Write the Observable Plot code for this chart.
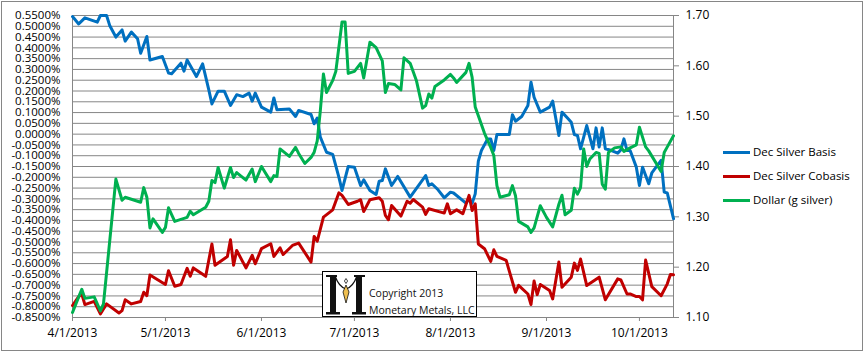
<!DOCTYPE html>
<html><head><meta charset="utf-8">
<script src="https://cdn.jsdelivr.net/npm/d3@7"></script>
<script src="https://cdn.jsdelivr.net/npm/@observablehq/plot@0.6"></script>
<style>
body{margin:0;background:#fff;}
#wrap{position:relative;width:865px;height:353px;font-family:"Open Sans",sans-serif;overflow:hidden;}
#frame{position:absolute;left:1px;top:1px;width:860px;height:348px;border:1px solid #868686;pointer-events:none;}
#chart{position:absolute;left:0;top:0;}
.leg{position:absolute;left:723px;height:16px;font-size:11.5px;color:#000;white-space:nowrap;}
.leg .sw{position:absolute;left:0;top:7px;width:27px;height:3px;}
.leg .lb{position:absolute;left:30px;top:0;line-height:16px;}
#copy{position:absolute;left:322px;top:271px;width:153px;height:44px;border:1px solid #000;background:#fff;}
#copy svg{position:absolute;left:0;top:0;}
</style></head>
<body><div id="wrap"><div id="chart"></div><div id="frame"></div><div id="legend"></div>
<div id="copy">
<svg width="153" height="44">
<g fill="#111">
<rect x="7" y="4" width="6" height="37"/>
<rect x="3" y="3" width="11" height="2"/>
<rect x="3" y="40" width="14" height="2.5"/>
<rect x="33" y="4" width="6" height="37"/>
<rect x="31" y="3" width="11" height="2"/>
<rect x="29" y="40" width="14" height="2.5"/>
</g>
<path d="M12,4 Q16,15 23,17 Q30,15 34,4" fill="none" stroke="#111" stroke-width="1.3"/>
<polygon points="23,13 26,20 23,31 20,20" fill="#f0c050" stroke="#111" stroke-width="0.8"/>
<polygon points="23,6.5 24.6,9 23,11.5 21.4,9" fill="#fff" stroke="#111" stroke-width="0.8"/>
<text x="46" y="25" font-family="Open Sans" font-size="10.5" fill="#111">Copyright 2013</text>
<text x="46" y="41.5" font-family="Open Sans" font-size="10.5" fill="#111">Monetary Metals, LLC</text>
</svg>
</div>
</div>
<script>
const seriesNames = ["Dec Silver Basis", "Dec Silver Cobasis", "Dollar (g silver)"];
const seriesColors = ["#0070C0", "#C00000", "#00B050"];
const monthTicks = ["4/1","5/1","6/1","7/1","8/1","9/1","10/1"];
const leftTicks = [0.55,0.50,0.45,0.40,0.35,0.30,0.25,0.20,0.15,0.10,0.05,0,-0.05,-0.10,-0.15,-0.20,-0.25,-0.30,-0.35,-0.40,-0.45,-0.50,-0.55,-0.60,-0.65,-0.70,-0.75,-0.80,-0.85];
const rightTicks = [1.10,1.20,1.30,1.40,1.50,1.60,1.70];

const basis = [["4/1",0.545],["4/3",0.511],["4/5",0.539],["4/9",0.519],["4/10",0.55],["4/12",0.55],["4/13",0.504],["4/15",0.45],["4/17",0.483],["4/18",0.431],["4/20",0.473],["4/22",0.442],["4/23",0.375],["4/25",0.453],["4/26",0.344],["4/30",0.36],["5/2",0.283],["5/3",0.28],["5/6",0.329],["5/7",0.292],["5/8",0.344],["5/11",0.267],["5/13",0.326],["5/15",0.205],["5/16",0.14],["5/18",0.199],["5/20",0.199],["5/22",0.133],["5/24",0.183],["5/26",0.174],["5/28",0.19],["5/29",0.153],["5/30",0.19],["6/1",0.125],["6/4",0.102],["6/5",0.168],["6/6",0.113],["6/10",0.117],["6/12",0.082],["6/13",0.11],["6/17",0.091],["6/18",0.048],["6/19",0.075],["6/20",-0.014],["6/22",-0.084],["6/24",-0.094],["6/26",-0.2],["6/27",-0.261],["6/29",-0.15],["7/1",-0.153],["7/3",-0.238],["7/4",-0.212],["7/6",-0.261],["7/8",-0.28],["7/9",-0.218],["7/10",-0.215],["7/11",-0.161],["7/13",-0.238],["7/15",-0.196],["7/19",-0.292],["7/24",-0.192],["7/25",-0.238],["7/26",-0.23],["7/28",-0.258],["7/30",-0.295],["8/1",-0.269],["8/2",-0.273],["8/6",-0.32],["8/7",-0.3],["8/8",-0.32],["8/9",-0.277],["8/10",-0.125],["8/11",-0.076],["8/13",-0.022],["8/14",-0.022],["8/15",-0.076],["8/16",-0.002],["8/20",-0.002],["8/21",0.09],["8/22",0.06],["8/24",0.082],["8/26",0.133],["8/27",0.241],["8/28",0.171],["8/30",0.102],["9/2",0.125],["9/3",0.153],["9/5",-0.006],["9/6",0.102],["9/8",0.071],["9/9",0.055],["9/10",-0.002],["9/11",-0.006],["9/12",-0.068],["9/14",0.04],["9/16",-0.068],["9/17",0.029],["9/18",-0.06],["9/19",0.029],["9/20",-0.068],["9/22",-0.076],["9/24",-0.088],["9/25",-0.073],["9/26",-0.022],["9/27",-0.076],["9/28",-0.076],["9/30",-0.153],["10/1",-0.238],["10/2",-0.153],["10/4",-0.23],["10/5",-0.18],["10/8",-0.122],["10/9",-0.269],["10/10",-0.273],["10/12",-0.392]];

const cobasis = [["4/1",-0.795],["4/3",-0.753],["4/4",-0.741],["4/5",-0.79],["4/8",-0.775],["4/10",-0.833],["4/12",-0.787],["4/16",-0.829],["4/17",-0.818],["4/18",-0.768],["4/20",-0.787],["4/23",-0.776],["4/24",-0.733],["4/25",-0.749],["4/26",-0.653],["5/1",-0.697],["5/2",-0.633],["5/4",-0.705],["5/6",-0.697],["5/8",-0.622],["5/9",-0.659],["5/10",-0.62],["5/14",-0.659],["5/16",-0.509],["5/17",-0.608],["5/21",-0.567],["5/22",-0.49],["5/23",-0.608],["5/24",-0.539],["5/27",-0.62],["5/29",-0.562],["5/30",-0.601],["6/1",-0.531],["6/4",-0.508],["6/5",-0.567],["6/7",-0.527],["6/8",-0.558],["6/11",-0.516],["6/13",-0.505],["6/17",-0.593],["6/18",-0.474],["6/19",-0.496],["6/21",-0.385],["6/24",-0.351],["6/26",-0.272],["6/27",-0.284],["6/29",-0.326],["7/2",-0.311],["7/3",-0.304],["7/4",-0.359],["7/6",-0.304],["7/9",-0.295],["7/10",-0.311],["7/11",-0.377],["7/12",-0.397],["7/13",-0.331],["7/16",-0.38],["7/18",-0.311],["7/19",-0.32],["7/20",-0.303],["7/23",-0.338],["7/24",-0.372],["7/25",-0.346],["7/30",-0.366],["7/31",-0.323],["8/1",-0.369],["8/3",-0.351],["8/5",-0.369],["8/7",-0.284],["8/8",-0.354],["8/9",-0.323],["8/10",-0.509],["8/12",-0.531],["8/14",-0.59],["8/15",-0.536],["8/16",-0.567],["8/19",-0.585],["8/20",-0.635],["8/22",-0.733],["8/23",-0.701],["8/26",-0.741],["8/27",-0.79],["8/28",-0.681],["8/29",-0.744],["8/30",-0.697],["9/2",-0.725],["9/3",-0.764],["9/5",-0.593],["9/6",-0.71],["9/9",-0.663],["9/10",-0.598],["9/11",-0.632],["9/12",-0.579],["9/14",-0.702],["9/18",-0.663],["9/20",-0.768],["9/24",-0.671],["9/25",-0.676],["9/27",-0.741],["9/28",-0.741],["9/30",-0.753],["10/1",-0.753],["10/2",-0.768],["10/3",-0.584],["10/5",-0.707],["10/8",-0.749],["10/10",-0.694],["10/11",-0.651],["10/12",-0.652]];

const dollar = [["4/1",1.110],["4/3",1.141],["4/4",1.156],["4/5",1.138],["4/8",1.141],["4/10",1.113],["4/11",1.127],["4/15",1.375],["4/17",1.333],["4/18",1.339],["4/20",1.335],["4/23",1.329],["4/24",1.358],["4/25",1.339],["4/26",1.278],["4/27",1.296],["4/30",1.269],["5/1",1.279],["5/2",1.318],["5/4",1.291],["5/8",1.299],["5/9",1.311],["5/10",1.304],["5/14",1.319],["5/15",1.331],["5/16",1.372],["5/17",1.368],["5/18",1.398],["5/20",1.357],["5/22",1.398],["5/23",1.378],["5/24",1.388],["5/27",1.373],["5/29",1.395],["5/30",1.370],["6/1",1.40],["6/4",1.370],["6/5",1.382],["6/6",1.380],["6/7",1.435],["6/10",1.420],["6/12",1.438],["6/13",1.426],["6/15",1.406],["6/17",1.418],["6/18",1.428],["6/19",1.451],["6/20",1.511],["6/21",1.584],["6/22",1.547],["6/24",1.571],["6/25",1.589],["6/27",1.687],["6/28",1.687],["6/29",1.585],["7/1",1.589],["7/3",1.605],["7/4",1.576],["7/6",1.647],["7/8",1.636],["7/10",1.610],["7/11",1.547],["7/12",1.565],["7/14",1.563],["7/16",1.552],["7/17",1.616],["7/19",1.605],["7/21",1.571],["7/23",1.516],["7/24",1.521],["7/25",1.544],["7/26",1.536],["7/27",1.559],["7/30",1.572],["8/1",1.583],["8/2",1.576],["8/3",1.567],["8/6",1.587],["8/7",1.605],["8/8",1.577],["8/9",1.518],["8/12",1.466],["8/14",1.438],["8/15",1.422],["8/16",1.362],["8/17",1.339],["8/20",1.344],["8/21",1.362],["8/22",1.342],["8/23",1.291],["8/26",1.280],["8/27",1.269],["8/28",1.278],["8/30",1.322],["9/1",1.299],["9/3",1.280],["9/5",1.325],["9/6",1.343],["9/7",1.304],["9/9",1.313],["9/10",1.357],["9/11",1.345],["9/12",1.358],["9/13",1.435],["9/14",1.400],["9/15",1.415],["9/17",1.428],["9/18",1.426],["9/19",1.365],["9/20",1.355],["9/21",1.428],["9/23",1.437],["9/25",1.439],["9/26",1.430],["9/28",1.437],["9/30",1.443],["10/1",1.478],["10/3",1.439],["10/4",1.431],["10/8",1.390],["10/9",1.428],["10/10",1.439],["10/12",1.461]];

const parse = s => { const [m, d] = s.split("/").map(Number); return new Date(Date.UTC(2013, m - 1, d)); };
const L0 = -0.85, L1 = 0.55, R0 = 1.10, R1 = 1.70;
const toLeft = v => L0 + (v - R0) / (R1 - R0) * (L1 - L0);
const fromLeft = v => R0 + (v - L0) / (L1 - L0) * (R1 - R0);
const fmtDate = d => `${d.getUTCMonth() + 1}/${d.getUTCDate()}/2013`;

const lineOpts = (i, yf) => ({x: d => parse(d[0]), y: yf, stroke: seriesColors[i], strokeWidth: 3, strokeLinejoin: "round", strokeLinecap: "round"});

const chart = Plot.plot({
  width: 865, height: 353,
  marginLeft: 72, marginRight: 192, marginTop: 15, marginBottom: 36,
  x: {type: "utc", domain: [parse("4/1"), parse("10/12")]},
  y: {domain: [L0, L1]},
  style: {fontFamily: "'Open Sans', sans-serif", fontSize: "11.5px", color: "#000", background: "transparent"},
  marks: [
    Plot.gridY(leftTicks, {stroke: "#868686", strokeOpacity: 1}),
    Plot.frame({stroke: "#868686"}),
    Plot.axisY(leftTicks, {anchor: "left", tickSize: 0, tickPadding: 12, fill: "#000", fontSize: 11.5, tickFormat: d => d.toFixed(4) + "%"}),
    Plot.axisY(rightTicks.map(toLeft), {anchor: "right", tickSize: 5, tickPadding: 7, stroke: "#868686", fill: "#000", fontSize: 12, tickFormat: d => fromLeft(d).toFixed(2)}),
    Plot.axisX(monthTicks.map(parse), {anchor: "bottom", tickSize: 4, tickPadding: 7, stroke: "#868686", fill: "#000", fontSize: 12, tickFormat: fmtDate}),
    Plot.line(basis, lineOpts(0, d => d[1])),
    Plot.line(cobasis, lineOpts(1, d => d[1])),
    Plot.line(dollar, lineOpts(2, d => toLeft(d[1])))
  ]
});
document.getElementById("chart").append(chart);

const legend = document.getElementById("legend");
seriesNames.forEach((name, i) => {
  const el = document.createElement("div");
  el.className = "leg";
  el.style.top = (144 + i * 24) + "px";
  el.innerHTML = `<span class="sw" style="background:${seriesColors[i]}"></span><span class="lb">${name}</span>`;
  legend.append(el);
});
</script>
</body></html>
